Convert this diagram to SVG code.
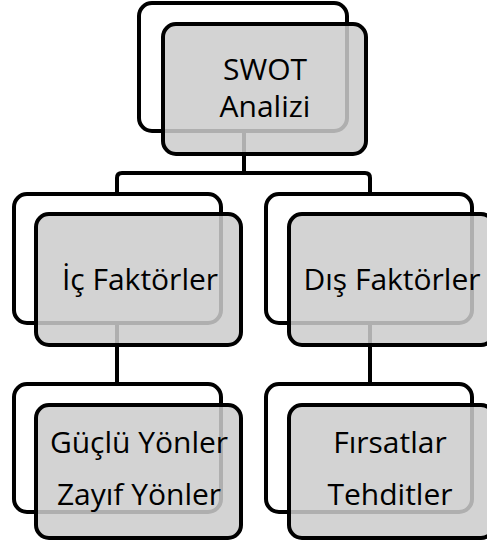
<svg xmlns="http://www.w3.org/2000/svg" width="487" height="541" viewBox="0 0 487 541">
<style>
.back{fill:#ffffff;stroke:#000;stroke-width:4}
.front{fill:#cccccc;fill-opacity:0.86;stroke:#000;stroke-width:4}
.conn{fill:none;stroke:#000;stroke-width:4}
text{font-family:"Open Sans","Noto Sans",sans-serif;font-size:30px;fill:#000;text-anchor:middle}
</style>
<rect width="487" height="541" fill="#fff"/>
<g id="connectors">
<path class="conn" d="M244,131 V173"/>
<path class="conn" d="M117,194 V178 Q117,173 122,173 H365 Q370,173 370,178 V194"/>
<path class="conn" d="M117,323 V384"/>
<path class="conn" d="M370,323 V384"/>
</g>
<g id="swot">
<rect class="back" x="139" y="3" width="208" height="128" rx="13"/>
<rect class="front" x="163" y="24" width="203" height="130" rx="13"/>
<text x="265" y="80">SWOT</text>
<text x="265" y="117">Analizi</text>
</g>
<g id="ic">
<rect class="back" x="14" y="194" width="207" height="129" rx="13"/>
<rect class="front" x="36" y="214" width="205" height="131" rx="13"/>
<text x="140" y="290">İç Faktörler</text>
</g>
<g id="dis">
<rect class="back" x="266" y="194" width="206" height="129" rx="13"/>
<rect class="front" x="289" y="214" width="205" height="131" rx="13"/>
<text x="392" y="290">Dış Faktörler</text>
</g>
<g id="ic-alt">
<rect class="back" x="14" y="384" width="207" height="128" rx="13"/>
<rect class="front" x="36" y="405" width="205" height="133" rx="13"/>
<text x="139" y="453">Güçlü Yönler</text>
<text x="139" y="505">Zayıf Yönler</text>
</g>
<g id="dis-alt">
<rect class="back" x="266" y="384" width="206" height="128" rx="13"/>
<rect class="front" x="289" y="405" width="205" height="133" rx="13"/>
<text x="390" y="453">Fırsatlar</text>
<text x="390" y="505">Tehditler</text>
</g>
</svg>
